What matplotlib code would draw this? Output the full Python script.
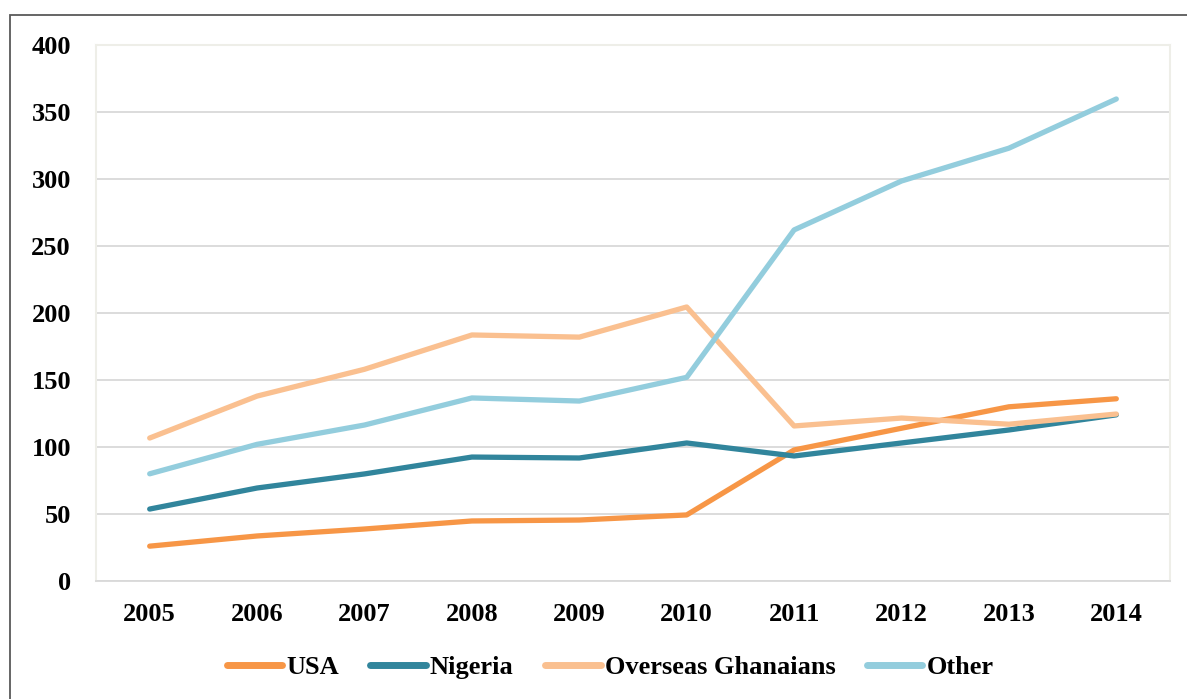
import matplotlib
matplotlib.use("Agg")
import matplotlib.pyplot as plt
from matplotlib.patches import Rectangle

years = [2005, 2006, 2007, 2008, 2009, 2010, 2011, 2012, 2013, 2014]
usa = [26, 33.6, 38.8, 44.8, 45.5, 49.3, 97.8, 114, 130, 136]
nigeria = [53.7, 69.4, 79.9, 92.5, 91.8, 103, 93.3, 103, 112.7, 124]
overseas = [106.7, 138, 158, 183.6, 182, 204.5, 115.7, 121.6, 117, 124.6]
other = [80, 102, 116.4, 136.6, 134.3, 152, 262, 298.5, 323, 359.7]
series_names = ["USA", "Nigeria", "Overseas Ghanaians", "Other"]
colors = ["#F79646", "#31859C", "#FAC090", "#93CDDD"]
yticks = [0, 50, 100, 150, 200, 250, 300, 350, 400]

plt.rcParams['font.family'] = ['Liberation Serif', 'DejaVu Serif']
fig = plt.figure(figsize=(11.87, 6.99), dpi=100)
ax = fig.add_axes([96/1187, 1 - 581/699, (1170-96)/1187, (581-45)/699])

for vals, name, c in zip([usa, nigeria, overseas, other], series_names, colors):
    ax.plot(years, vals, color=c, lw=3.8, label=name,
            solid_joinstyle='round', solid_capstyle='round')

ax.set_xlim(2004.5, 2014.5)
ax.set_ylim(0, 400)
ax.set_yticks(yticks)
ax.set_xticks(years)
ax.yaxis.grid(True, color='#D9D9D9', lw=1.3)
ax.set_axisbelow(True)
for s in ['top', 'right', 'left']:
    ax.spines[s].set_color('#EEEEE8')
    ax.spines[s].set_linewidth(1.5)
ax.spines['bottom'].set_color('#D9D9D9')
ax.spines['bottom'].set_linewidth(1.3)
ax.tick_params(length=0, labelsize=19)
ax.tick_params(axis='x', pad=16)
ax.tick_params(axis='y', pad=18)
for lab in ax.get_xticklabels() + ax.get_yticklabels():
    lab.set_fontweight('bold')

leg = fig.legend(loc='center', bbox_to_anchor=(610/1187, 1 - 667/699), ncol=4,
                 frameon=False, prop={'size': 19, 'weight': 'bold'},
                 handlelength=2.1, columnspacing=1.2, handletextpad=0.15)
for h in leg.legend_handles:
    h.set_linewidth(5)

fig.add_artist(Rectangle((10/1187, -0.1), 1.2, 1 - 15/699 + 0.1,
                         transform=fig.transFigure, fill=False,
                         edgecolor='#595959', lw=1.3))

fig.savefig('out.png', dpi=100)
